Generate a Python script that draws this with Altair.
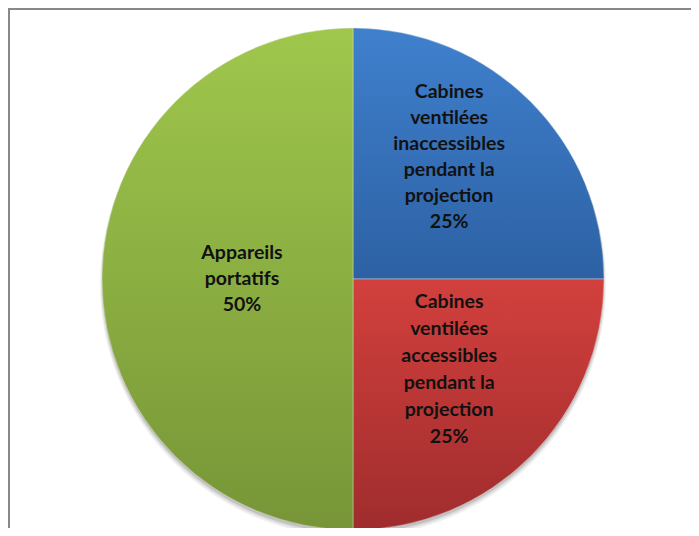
import math
import altair as alt
import pandas as pd

# ---- data ----
categories = [
    "Cabines ventilées inaccessibles pendant la projection",
    "Cabines ventilées accessibles pendant la projection",
    "Appareils portatifs",
]
label_lines = [
    "Cabines\nventilées\ninaccessibles\npendant la\nprojection",
    "Cabines\nventilées\naccessibles\npendant la\nprojection",
    "Appareils\nportatifs",
]
values = [25, 25, 50]
order = [0, 1, 2]

# ---- styles ----
grad_top = ["#3F80CD", "#D2403D", "#9FC74C"]
grad_bottom = ["#2D61A4", "#A02C2D", "#779537"]
label_radius = [136, 136, 111]
label_dy = [-91, -73, -26]
label_lh = [26, 27, 26]

W, H = 683, 520
CX, CY = 345, 271
R = 251

df = pd.DataFrame({"category": categories, "lines": label_lines,
                   "value": values, "order": order})

theta_scale = alt.Scale(domain=[0, 1], range=[0, 2 * math.pi])

base = (
    alt.Chart(df)
    .transform_joinaggregate(total="sum(value)")
    .transform_window(cum="sum(value)", sort=[alt.SortField("order")], frame=[None, 0])
    .transform_calculate(
        end="datum.cum / datum.total",
        start="(datum.cum - datum.value) / datum.total",
    )
    .transform_calculate(
        mid="(datum.start + datum.end) / 2",
        label="datum.lines + '\\n' + format(datum.value / datum.total, '.0%')",
    )
)

layers = []

# soft shadow
for off, op, rr in [(5, 0.06, R + 2), (4, 0.08, R + 1), (3, 0.12, R)]:
    layers.append(
        base.mark_arc(fill="#000000", opacity=op, radius=rr).encode(
            theta=alt.Theta("start:Q", scale=theta_scale),
            theta2="end:Q",
            x=alt.value(CX),
            y=alt.value(CY + off),
        )
    )

for i in order:
    grad = alt.LinearGradient(
        gradient="linear",
        stops=[alt.GradientStop(color=grad_top[i], offset=0),
               alt.GradientStop(color=grad_bottom[i], offset=1)],
        x1=0, x2=0, y1=0, y2=1,
    )
    layers.append(
        base.transform_filter(alt.datum.order == i)
        .mark_arc(fill=grad, radius=R, stroke="#e8e8e8", strokeWidth=0.4)
        .encode(
            theta=alt.Theta("start:Q", scale=theta_scale),
            theta2="end:Q",
            x=alt.value(CX),
            y=alt.value(CY),
        )
    )

for i in order:
    layers.append(
        base.transform_filter(alt.datum.order == i)
        .mark_text(font="Lato", fontSize=19.5, fontWeight="bold", lineBreak="\n",
                   lineHeight=label_lh[i], align="center", baseline="middle",
                   radius=label_radius[i], dy=label_dy[i], color="#111111")
        .encode(
            theta=alt.Theta("mid:Q", scale=theta_scale),
            text="label:N",
            x=alt.value(CX),
            y=alt.value(CY),
        )
    )

frame = pd.DataFrame({"a": [0]})
left_rule = alt.Chart(frame).mark_rule(color="#888888", strokeWidth=2).encode(
    x=alt.value(1), y=alt.value(0), y2=alt.value(H))
top_rule = alt.Chart(frame).mark_rule(color="#888888", strokeWidth=2).encode(
    x=alt.value(0), x2=alt.value(W), y=alt.value(1))
layers += [left_rule, top_rule]

chart = (
    alt.layer(*layers)
    .properties(width=W, height=H, autosize=alt.AutoSizeParams(type="none"),
                padding=0, background="white")
    .configure_view(stroke=None)
)

chart.save("out.html", embed_options={"renderer": "svg", "actions": False})
